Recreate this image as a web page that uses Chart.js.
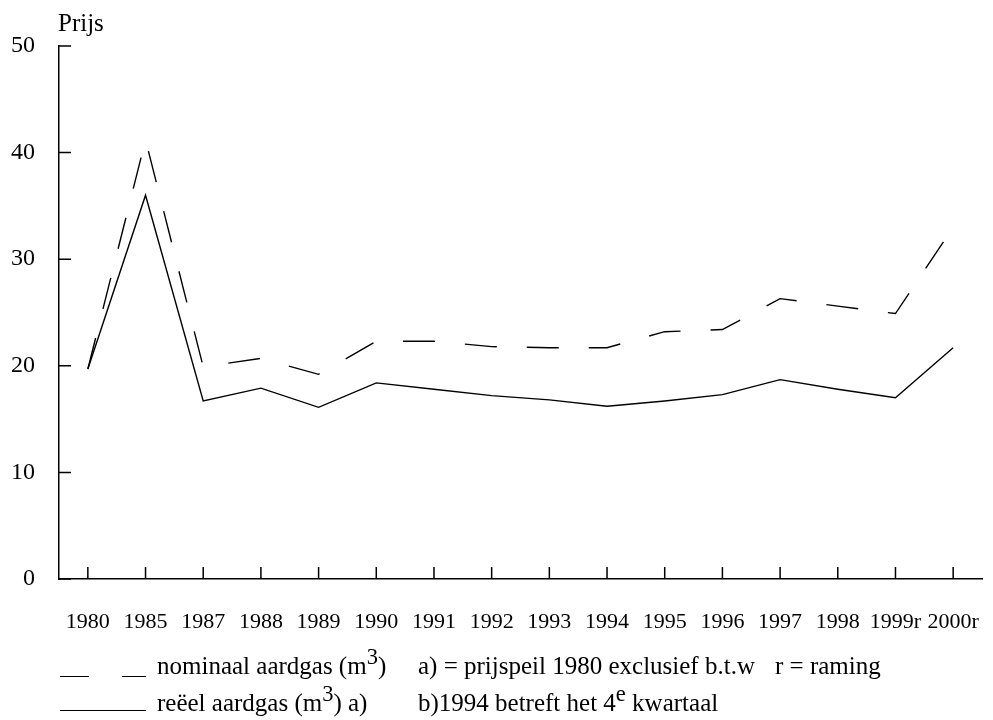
<!DOCTYPE html>
<html>
<head>
<meta charset="utf-8">
<script src="https://cdn.jsdelivr.net/npm/chart.js@4"></script>
<style>
  body { margin: 0; background: #fff; }
  #wrap { position: relative; width: 993px; height: 720px; font-family: "Liberation Serif", "DejaVu Serif", serif; color: #000; }
  .txt { position: absolute; font-size: 25px; line-height: 25px; white-space: nowrap; }
  .txt sup { font-size: 0.9em; vertical-align: 0.45em; line-height: 0; }
  .ln { position: absolute; border-top: 1.5px solid #000; height: 0; }
</style>
</head>
<body>
<div id="wrap">
  <canvas id="chart" width="993" height="720"></canvas>
  <div class="txt" style="left:58px; top:10px;">Prijs</div>

  <div class="ln" style="left:60px; top:676px; width:29px;"></div>
  <div class="ln" style="left:122px; top:676px; width:24px;"></div>
  <div class="txt" style="left:157px; top:653px;">nominaal aardgas (m<sup>3</sup>)</div>
  <div class="txt" style="left:418px; top:653px;">a) = prijspeil 1980 exclusief b.t.w</div>
  <div class="txt" style="left:775px; top:653px;">r = raming</div>

  <div class="ln" style="left:60px; top:710px; width:86px;"></div>
  <div class="txt" style="left:157px; top:690px;">reëel aardgas (m<sup>3</sup>) a)</div>
  <div class="txt" style="left:418px; top:690px;">b)1994 betreft het 4<sup>e</sup> kwartaal</div>
</div>
<script>
// jaren op de x-as
const years = ['1980', '1985', '1987', '1988', '1989', '1990', '1991', '1992',
  '1993', '1994', '1995', '1996', '1997', '1998', '1999r', '2000r'];
// prijzen
const nominaal = [19.7, 41.2, 19.9, 20.7, 19.2, 22.3, 22.3, 21.8, 21.7, 21.7, 23.2, 23.4, 26.3, 25.6, 24.9, 33.0];
const reeel = [19.7, 36.0, 16.7, 17.9, 16.1, 18.4, 17.8, 17.2, 16.8, 16.2, 16.7, 17.3, 18.7, 17.8, 17.0, 21.7];
const yTicks = [0, 10, 20, 30, 40, 50];

// kleine streepjes naar binnen op beide assen
const innerTicks = {
  id: 'innerTicks',
  afterDraw(chart) {
    const { ctx, chartArea, scales } = chart;
    ctx.save();
    ctx.strokeStyle = '#000';
    ctx.lineWidth = 1.5;
    ctx.beginPath();
    scales.x.ticks.forEach((t, i) => {
      const x = scales.x.getPixelForTick(i);
      ctx.moveTo(x, chartArea.bottom);
      ctx.lineTo(x, chartArea.bottom - 12);
    });
    scales.y.ticks.forEach((t, i) => {
      const y = scales.y.getPixelForTick(i);
      ctx.moveTo(chartArea.left, y);
      ctx.lineTo(chartArea.left + 12, y);
    });
    ctx.stroke();
    ctx.restore();
  }
};

const ctx = document.getElementById('chart').getContext('2d');
new Chart(ctx, {
  type: 'line',
  data: {
    labels: years,
    datasets: [
      {
        label: 'nominaal aardgas (m3)',
        data: nominaal,
        borderColor: '#000',
        borderWidth: 1.4,
        borderDash: [32, 30],
        pointRadius: 0,
        tension: 0
      },
      {
        label: 'reëel aardgas (m3) a)',
        data: reeel,
        borderColor: '#000',
        borderWidth: 1.4,
        pointRadius: 0,
        tension: 0
      }
    ]
  },
  options: {
    responsive: false,
    animation: false,
    layout: { padding: { left: 0, top: 46, right: 11, bottom: 0 } },
    plugins: {
      legend: { display: false },
      tooltip: { enabled: false }
    },
    scales: {
      x: {
        offset: true,
        grid: { drawOnChartArea: false, drawTicks: false },
        border: { display: true, color: '#000', width: 1.5 },
        ticks: {
          color: '#000',
          padding: 30,
          maxRotation: 0,
          autoSkip: false,
          font: { family: 'Liberation Serif', size: 22 }
        },
        afterFit(scale) {
          scale.height = 141;
          scale.paddingLeft = 0;
          scale.paddingRight = 0;
        }
      },
      y: {
        min: 0,
        max: 50,
        afterBuildTicks(scale) { scale.ticks = yTicks.map(v => ({ value: v })); },
        grid: { drawOnChartArea: false, drawTicks: false },
        border: { display: true, color: '#000', width: 1.5 },
        ticks: {
          color: '#000',
          padding: 24,
          font: { family: 'Liberation Serif', size: 24 }
        },
        afterFit(scale) {
          scale.width = 59;
          scale.paddingTop = 0;
          scale.paddingBottom = 0;
        }
      }
    }
  },
  plugins: [innerTicks]
});
</script>
</body>
</html>
